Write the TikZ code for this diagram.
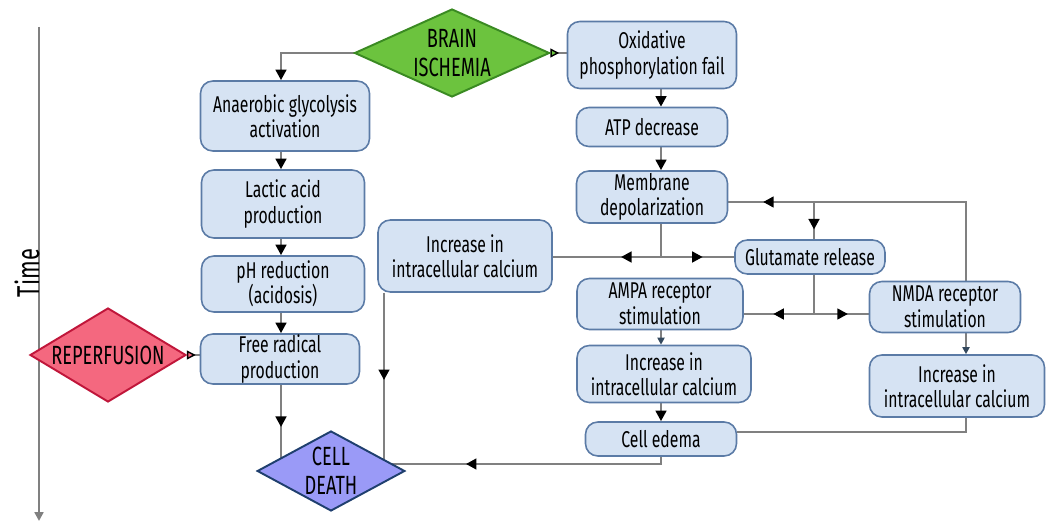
\documentclass[tikz,border=0pt]{standalone}
\usepackage{fontspec}
\setmainfont{Fira Sans}[FakeStretch=0.69]
\usetikzlibrary{shapes.geometric,arrows.meta,decorations.markings,backgrounds}
\definecolor{boxfill}{HTML}{D6E3F3}
\definecolor{boxline}{HTML}{5B7BA6}
\definecolor{wiregray}{HTML}{808080}
\definecolor{ischfill}{HTML}{6CC33E}
\definecolor{ischline}{HTML}{3A8A22}
\definecolor{repfill}{HTML}{F4687F}
\definecolor{repline}{HTML}{C0163A}
\definecolor{deathfill}{HTML}{9A9AF7}
\definecolor{deathline}{HTML}{1F3F6E}
\definecolor{smalltip}{HTML}{34495E}

\begin{document}
\begin{tikzpicture}[x=0.02cm,y=-0.02cm,
  >={Triangle[length=6pt,width=6pt,color=black]},
  box/.style={draw=boxline,fill=boxfill,line width=0.9pt,rounded corners=7pt,align=center,inner sep=0pt,font=\fontsize{13}{14.5}\selectfont},
  dia/.style={diamond,aspect=2,inner sep=0pt,line width=1.1pt,align=center,font=\fontsize{15}{16.5}\selectfont},
  wire/.style={draw=wiregray,line width=1.6pt},
  smallarr/.style={-{Triangle[length=4pt,width=4pt,color=smalltip]}},
  tailtri/.style={arrows={{Triangle[reversed,length=5pt,width=5pt,color=black,fill=#1,line width=0.8pt]}-}},
  midtip/.style={postaction={decorate},decoration={markings,mark=at position #1 with {\arrow{Triangle[length=6pt,width=6pt,color=black]}}}}]
\useasboundingbox (0,0) rectangle (1051,523);

\coordinate (ttop) at (39,27);
\coordinate (tbot) at (39,521);
\draw[draw=wiregray,line width=1.6pt,-{Triangle[length=5pt,width=5pt,color=wiregray]}] (ttop) -- (tbot);
\node[rotate=90,font=\fontsize{18}{20}\selectfont] (time) at (27,273) {Time};

\node[dia,fill=ischfill,draw=ischline,minimum width=3.9cm,minimum height=1.76cm] (isch) at (452,53) {BRAIN\\ISCHEMIA};
\node[dia,fill=repfill,draw=repline,minimum width=3.12cm,minimum height=1.88cm] (reperf) at (108,355) {REPERFUSION};
\node[dia,fill=deathfill,draw=deathline,minimum width=2.92cm,minimum height=1.6cm] (death) at (331,471) {CELL\\DEATH};

\node[box,minimum width=3.38cm,minimum height=1.40cm] (anae) at (285,116) {Anaerobic glycolysis\\activation};
\node[box,minimum width=3.26cm,minimum height=1.36cm] (lact) at (283,204) {Lactic acid\\production};
\node[box,minimum width=3.26cm,minimum height=1.12cm] (ph) at (283,284) {pH reduction\\(acidosis)};
\node[box,minimum width=3.18cm,minimum height=1.00cm] (frad) at (280,359) {Free radical\\production};

\node[box,minimum width=3.38cm,minimum height=1.34cm] (oxid) at (652,55) {Oxidative\\phosphorylation fail};
\node[box,minimum width=3.02cm,minimum height=0.78cm] (atp) at (652,127) {ATP decrease};
\node[box,minimum width=3.02cm,minimum height=1.04cm] (memb) at (652,197) {Membrane\\depolarization};
\node[box,minimum width=3.48cm,minimum height=1.44cm] (caL) at (465,256) {Increase in\\intracellular calcium};
\node[box,minimum width=3.00cm,minimum height=0.68cm] (glut) at (810,257) {Glutamate release};
\node[box,minimum width=3.32cm,minimum height=1.02cm] (ampa) at (660,304) {AMPA receptor\\stimulation};
\node[box,minimum width=3.48cm,minimum height=1.14cm] (caA) at (664,374) {Increase in\\intracellular calcium};
\node[box,minimum width=3.02cm,minimum height=0.68cm] (edema) at (661,439) {Cell edema};
\node[box,minimum width=3.02cm,minimum height=1.02cm] (nmda) at (945,307) {NMDA receptor\\stimulation};
\node[box,minimum width=3.50cm,minimum height=1.24cm] (caN) at (957,386) {Increase in\\intracellular calcium};

\coordinate (colL) at (281,0);
\coordinate (colR) at (661,0);
\coordinate (colN) at (966,0);
\coordinate (colG) at (814,0);
\coordinate (colC) at (384,0);
\coordinate (rowM) at (0,202);
\coordinate (rowJ) at (0,257);
\coordinate (rowG) at (0,314);
\coordinate (rowE) at (0,432);
\coordinate (rowD) at (0,464);

\begin{scope}[on background layer]
\draw[wire,tailtri=ischfill,->] (isch.west) -| (anae.north -| colL);
\draw[wire,tailtri=ischfill] (isch.east) -- (oxid.west |- isch.east);
\draw[wire,->] (anae.south -| colL) -- (lact.north -| colL);
\draw[wire,->] (lact.south -| colL) -- (ph.north -| colL);
\draw[wire,->] (ph.south -| colL) -- (frad.north -| colL);
\draw[wire,midtip=0.49] (frad.south -| colL) -- (colL |- death.center);
\draw[wire,tailtri=repfill] (reperf.east) -- (reperf.east -| frad.west);

\draw[wire,->] (oxid.south -| colR) -- (atp.north -| colR);
\draw[wire,->] (atp.south -| colR) -- (memb.north -| colR);
\draw[wire] (memb.south -| colR) -- (colR |- rowJ);
\draw[wire,midtip=0.37] (colR |- rowJ) -- (caL.east |- rowJ);
\draw[wire,midtip=0.57] (colR |- rowJ) -- (glut.west |- rowJ);
\draw[wire,midtip=0.89] (nmda.north -| colN) -- (colN |- rowM) -- (memb.east |- rowM);
\draw[wire,midtip=0.74] (colG |- rowM) -- (glut.north -| colG);
\draw[wire] (glut.south -| colG) -- (colG |- rowG);
\draw[wire,midtip=0.58] (colG |- rowG) -- (ampa.east |- rowG);
\draw[wire,midtip=0.62] (colG |- rowG) -- (nmda.west |- rowG);
\draw[wire,smallarr] (ampa.south -| colR) -- (caA.north -| colR);
\draw[wire,->] (caA.south -| colR) -- (edema.north -| colR);
\draw[wire,smallarr] (nmda.south -| colN) -- (caN.north -| colN);
\draw[wire] (caN.south -| colN) -- (colN |- rowE) -- (edema.east |- rowE);
\draw[wire,midtip=0.6] (edema.south -| colR) -- (colR |- rowD) -- (death.center |- rowD);
\draw[wire,midtip=0.51] (caL.south -| colC) -- (colC |- rowD);
\end{scope}
\end{tikzpicture}
\end{document}
